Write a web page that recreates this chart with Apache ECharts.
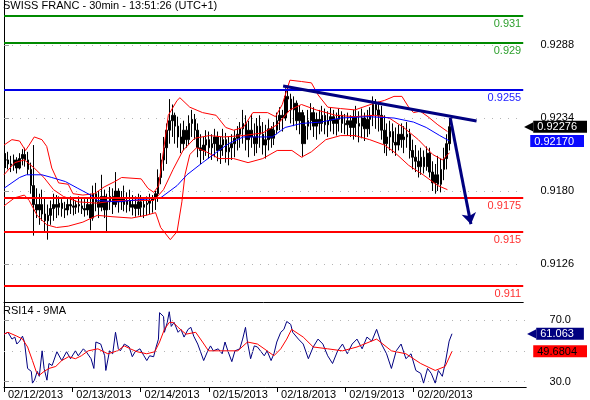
<!DOCTYPE html>
<html>
<head>
<meta charset="utf-8">
<script src="https://cdn.jsdelivr.net/npm/echarts/dist/echarts.min.js"></script>
<style>
  html, body { margin: 0; padding: 0; background: #fff; }
  #chart { width: 590px; height: 400px; }
</style>
</head>
<body>
<div id="chart"></div>
<script>
// x 单位: 小时 (只算交易日), 0 = 02/12 00:00
var dayTicks = [0, 24, 48, 72, 96, 120, 144];
var dayLabels = ["02/12/2013", "02/13/2013", "02/14/2013", "02/15/2013", "02/18/2013", "02/19/2013", "02/20/2013"];
var priceTicks = [0.9288, 0.9234, 0.9180, 0.9126];
var rsiTicks = [30, 70];

// 1小时K线 高/低/收
var barHigh = [
  .9208,.9209,.9206,.9207,.9205,.9208,.9211,.9212,.9209,.9201,.9214,.9182,.9178,.9181,.9175,.9170,.9173,.9178,.9177,.9176,.9174,.9172,.9174,.9176,
  .9175,.9173,.9176,.9175,.9174,.9175,.9178,.9184,.9186,.9180,.9192,.9181,.9178,.9183,.9182,.9194,.9182,.9180,.9184,.9179,.9181,.9177,.9176,.9178,
  .9177,.9175,.9176,.9178,.9177,.9180,.9196,.9208,.9220,.9230,.9248,.9244,.9238,.9235,.9230,.9232,.9228,.9236,.9240,.9237,.9230,.9222,.9220,.9225,
  .9224,.9222,.9226,.9224,.9220,.9226,.9223,.9220,.9222,.9225,.9228,.9231,.9240,.9236,.9232,.9237,.9230,.9234,.9236,.9231,.9229,.9233,.9228,.9231,
  .9238,.9242,.9240,.9256,.9258,.9252,.9250,.9247,.9243,.9240,.9236,.9240,.9245,.9242,.9238,.9240,.9243,.9241,.9239,.9242,.9240,.9238,.9241,.9239,
  .9237,.9238,.9236,.9240,.9243,.9239,.9241,.9238,.9240,.9242,.9250,.9248,.9246,.9243,.9236,.9230,.9232,.9230,.9227,.9229,.9230,.9228,.9231,.9226,
  .9218,.9214,.9210,.9212,.9210,.9213,.9212,.9202,.9200,.9206,.9204,.9212,.9222,.9234
];
var barLow = [
  .9197,.9196,.9194,.9195,.9193,.9196,.9199,.9198,.9192,.9178,.9147,.9160,.9155,.9158,.9150,.9144,.9155,.9158,.9160,.9162,.9161,.9160,.9162,.9163,
  .9162,.9163,.9164,.9163,.9161,.9162,.9151,.9158,.9165,.9160,.9165,.9160,.9149,.9166,.9163,.9168,.9164,.9166,.9165,.9164,.9165,.9162,.9161,.9162,
  .9161,.9160,.9162,.9163,.9164,.9166,.9172,.9185,.9195,.9200,.9215,.9220,.9215,.9212,.9208,.9210,.9212,.9214,.9220,.9218,.9205,.9200,.9203,.9206,
  .9204,.9203,.9205,.9202,.9200,.9206,.9201,.9199,.9203,.9205,.9210,.9212,.9215,.9210,.9205,.9212,.9206,.9208,.9212,.9207,.9204,.9210,.9212,.9214,
  .9222,.9225,.9224,.9232,.9238,.9230,.9228,.9225,.9222,.9205,.9215,.9218,.9225,.9220,.9218,.9222,.9224,.9222,.9220,.9224,.9222,.9221,.9224,.9223,
  .9222,.9221,.9220,.9218,.9220,.9216,.9219,.9217,.9220,.9222,.9228,.9226,.9224,.9218,.9208,.9206,.9210,.9208,.9206,.9210,.9212,.9208,.9212,.9204,
  .9196,.9194,.9190,.9192,.9193,.9195,.9190,.9180,.9178,.9180,.9179,.9188,.9196,.9210
];
var barClose = [
  .9203,.9200,.9199,.9203,.9197,.9204,.9207,.9203,.9196,.9184,.9170,.9166,.9170,.9163,.9158,.9162,.9167,.9170,.9168,.9171,.9167,.9166,.9170,.9169,
  .9168,.9170,.9169,.9167,.9166,.9170,.9160,.9178,.9172,.9168,.9176,.9166,.9172,.9176,.9170,.9180,.9172,.9175,.9170,.9173,.9168,.9170,.9167,.9172,
  .9168,.9170,.9171,.9173,.9175,.9178,.9190,.9203,.9212,.9225,.9232,.9236,.9228,.9220,.9215,.9225,.9218,.9230,.9233,.9225,.9212,.9210,.9214,.9218,
  .9212,.9215,.9220,.9210,.9214,.9218,.9209,.9212,.9215,.9219,.9222,.9226,.9230,.9218,.9225,.9220,.9215,.9228,.9222,.9214,.9218,.9226,.9219,.9225,
  .9232,.9236,.9234,.9250,.9248,.9240,.9245,.9232,.9238,.9215,.9228,.9232,.9238,.9228,.9233,.9230,.9236,.9229,.9232,.9235,.9230,.9233,.9236,.9230,
  .9229,.9232,.9227,.9235,.9230,.9228,.9234,.9226,.9233,.9236,.9244,.9240,.9236,.9225,.9215,.9220,.9224,.9216,.9214,.9222,.9218,.9220,.9222,.9210,
  .9205,.9202,.9198,.9205,.9198,.9208,.9194,.9186,.9192,.9185,.9196,.9204,.9215,.92276
];

// 布林带 上/中/下 和 蓝色均线 [小时, 价格]
var bandUpper = [[0,.9214],[2.8,.9218],[5.5,.9217],[7.6,.9210],[8.9,.9214],[10.7,.9220],[13.4,.9218],[15.1,.9213],[16.9,.9197],[19.3,.9186],[22.7,.9185],[24.4,.9178],[27.9,.9177],[32,.9178],[35.4,.9183],[39.2,.9187],[41.6,.9190],[48.5,.9189],[50.9,.9182],[53,.9179],[54.7,.9184],[56.4,.9210],[58.1,.9236],[61.2,.9247],[62.2,.9249],[65.7,.9242],[70.2,.9238],[75,.9236],[78.4,.9227],[81.2,.9225],[84.6,.9227],[88,.9238],[93.2,.9238],[96,.9235],[98.4,.9244],[101.1,.9262],[105.2,.9261],[108.7,.9260],[111.1,.9251],[114.5,.9242],[119,.9241],[124.1,.9240],[131,.9245],[134.5,.9247],[137.9,.9250],[140.7,.9250],[143.1,.9242],[144.8,.9238],[147.2,.9239],[149.9,.9235],[153.4,.9229],[156.8,.9224]];
var bandMid = [[0,.9192],[3.8,.9201],[7.2,.9203],[10.7,.9197],[14.1,.9190],[17.5,.9181],[21,.9176],[26.1,.9172],[33,.9171],[39.9,.9173],[46.8,.9173],[53,.9173],[56.4,.9181],[59.8,.9196],[63.3,.9210],[67.4,.9219],[72.6,.9221],[77.7,.9220],[84.6,.9221],[91.5,.9223],[96.6,.9229],[101.1,.9240],[105.2,.9244],[110.4,.9240],[117.3,.9236],[124.1,.9235],[131,.9236],[136.2,.9234],[141.3,.9227],[146.5,.9218],[151.6,.9207],[155.1,.9203],[157.5,.92083]];
var bandLower = [[0,.9169],[3.8,.9175],[7.2,.9177],[8.9,.9173],[11.7,.9162],[15.1,.9155],[18.6,.9153],[22.7,.9154],[27.9,.9157],[33,.9162],[38.2,.9161],[45.1,.9160],[50.2,.9162],[53.6,.9164],[55.4,.9153],[58.8,.9144],[61.2,.9150],[62.9,.9172],[64,.9192],[65.7,.9207],[68.1,.9212],[71.5,.9209],[76,.9204],[81.2,.9204],[86.3,.9201],[91.5,.9204],[96.6,.9210],[101.8,.9210],[105.2,.9205],[108.7,.9209],[113.8,.9218],[119,.9221],[124.1,.9221],[129.3,.9218],[134.5,.9214],[137.9,.9209],[143.1,.9199],[148.2,.9192],[153.4,.9184],[156.8,.9181]];
var maBlue = [[0,.9182],[5.5,.9190],[7.9,.9192],[13.4,.9192],[16.9,.9190],[21.7,.9187],[26.1,.9182],[30.6,.9177],[33,.9173],[39.9,.9172],[55.4,.9175],[61.2,.9184],[64.7,.9192],[70.2,.9201],[76,.9210],[79.4,.9215],[84.6,.9220],[94.9,.9220],[99.4,.9227],[105.2,.9230],[112.1,.9231],[119,.9234],[128.6,.9235],[137.9,.9234],[144.8,.9231],[149.3,.9227],[154.1,.9221],[157.5,.92170]];

// 水平支撑/阻力
var levelValues = [0.931, 0.929, 0.9255, 0.9175, 0.915, 0.911];
var levelLabels = ["0.931", "0.929", "0.9255", "0.9175", "0.915", "0.911"];
var levelColors = ["#008a00", "#008a00", "#0000e6", "#ff0000", "#ff0000", "#ff0000"];
var levelTextColors = ["#2ea02e", "#2ea02e", "#2020ff", "#ff3030", "#ff3030", "#ff3030"];
// 趋势线与箭头 [小时, 价格]
var trendLine = [[98.7, 0.92577], [167.1, 0.92318]];
var arrowLine = [[157.8, 0.92340], [165.1, 0.91555]];

// RSI14 和 9MA
var rsi = [[0,60.8],[1.4,62],[2.8,57.6],[3.8,58.9],[4.5,54.4],[5.5,56.3],[6.5,59.5],[7.2,55.7],[8.3,38.6],[9.6,36.7],[10,29.1],[10.7,31],[11.7,36.7],[12.4,33.5],[13.4,50],[14.1,38.6],[15.1,31],[15.8,41.8],[16.9,40.5],[18.6,49.4],[20.3,43.7],[22,49.4],[23.4,44.9],[25.1,50],[26.1,46.8],[27.9,51.3],[28.9,49.4],[30.6,44.9],[31.6,38.6],[32.3,55.7],[34,54.4],[35.4,46.8],[35.8,37.3],[37.1,50],[38.2,48.1],[39.2,62],[40.2,51.3],[40.9,50],[42.3,54.4],[44,52.5],[45.1,46.2],[46.1,49.4],[47.8,51.3],[49.2,46.8],[50.2,43.7],[51.2,46.8],[52.6,46.2],[53.3,51.3],[54.3,57.6],[54.7,74.7],[56.1,72.2],[56.4,62],[57.4,68.4],[58.1,75.3],[58.8,65.8],[59.8,68.4],[61.2,62],[62.2,63.9],[63.3,58.9],[64.7,63.9],[65.7,65.2],[66.7,59.5],[68.1,54.4],[69.1,49.4],[70.2,43.7],[71.5,49.4],[72.6,53.2],[73.6,50],[75.3,51.3],[76.7,48.1],[77.7,55.7],[78.8,49.4],[80.1,43],[81.2,50],[82.9,51.3],[83.9,57.6],[84.9,65.2],[85.6,55.7],[86.7,44.9],[88,53.2],[89.1,52.5],[90.4,49.4],[91.5,46.8],[92.5,50],[93.9,43.7],[94.9,48.1],[95.9,55.7],[97.3,62],[98.4,63.9],[99.4,69],[100.8,67.1],[101.5,62],[103.5,57.6],[105.2,54.4],[107,44.9],[108.7,52.5],[110.4,57.6],[112.1,54.4],[113.8,46.8],[115.5,41.8],[117.3,50],[119,54.4],[120.7,48.1],[122.4,54.4],[124.1,57.6],[125.9,51.3],[127.6,58.9],[129.3,56.3],[131,63.9],[132.7,54.4],[134.5,48.1],[136.2,38.6],[137.9,50],[139.6,54.4],[141.3,44.9],[143.1,48.1],[144.8,37.3],[146.5,35.4],[147.5,29.1],[148.9,38.6],[150.2,35.4],[151.6,29.1],[152.7,37.3],[154.1,33.5],[155.1,41.8],[156.5,56.3],[157.5,61.063]];
var rsiMa = [[0,60.8],[1.4,62],[4.5,59.5],[6.5,57.6],[8.3,52.5],[10,43.7],[11.3,36.7],[12.4,34.2],[14.1,36.7],[15.8,38.6],[18.2,39.9],[20.3,43.7],[22.7,46.2],[25.1,44.9],[27.2,46.8],[29.6,50],[33,51.3],[36.5,48.1],[39.9,50],[42.3,53.2],[44.4,51.3],[46.8,49.4],[50.2,48.1],[53,49.4],[54.7,55.7],[56.4,63.9],[58.1,68.4],[59.5,68.4],[61.2,65.2],[64,60.8],[67.4,62],[69.8,55.7],[71.9,50],[75.3,50],[78.8,50],[82.2,50],[85.6,55.7],[89.1,54.4],[92.5,50],[94.9,46.8],[97.3,51.3],[99.4,57.6],[101.1,63.9],[105.2,58.9],[108.7,52.5],[113.8,51.3],[119,50],[124.1,52.5],[131,57.6],[136.2,50],[141.3,48.1],[146.5,41.8],[151.6,37.3],[155.1,39.9],[157.5,49.6804]];

// 右侧价格标签
var priceTags = [0.92276, 0.92170, 0.92083];
var rsiTags = [61.063, 49.6804];

var font = "'Liberation Sans', Arial, sans-serif";

var candles = barClose.map(function (c, i) {
  var o = i === 0 ? 0.9203 : barClose[i - 1];
  return [i + 0.5, o, c, barLow[i], barHigh[i]];
});

var levelData = levelValues.map(function (v, i) {
  return {
    yAxis: v,
    name: levelLabels[i],
    lineStyle: { color: levelColors[i], width: 2, type: "solid" },
    label: {
      show: true,
      position: "insideEndBottom",
      formatter: "{b}",
      color: levelTextColors[i],
      fontSize: 11,
      fontFamily: font,
      distance: [2, 3],
    },
  };
});

function tagIndex(list, v) {
  for (var i = 0; i < list.length; i++) {
    if (Math.abs(list[i] - v) < 1e-7) return i;
  }
  return -1;
}

var myChart = echarts.init(document.getElementById("chart"));
myChart.setOption({
  animation: false,
  textStyle: { fontFamily: font },
  title: [
    {
      text: "SWISS FRANC - 30min - 13:51:26 (UTC+1)",
      left: 3,
      top: 0,
      padding: 0,
      textStyle: { fontSize: 11, fontWeight: "normal", color: "#000", fontFamily: font },
    },
    {
      text: "RSI14 - 9MA",
      left: 3,
      top: 305,
      padding: 0,
      textStyle: { fontSize: 11, fontWeight: "normal", color: "#000", fontFamily: font },
    },
  ],
  grid: [
    { left: 4, right: 52, top: 0, height: 302 },
    { left: 4, right: 52, top: 302, bottom: 11 },
  ],
  xAxis: [
    {
      type: "value",
      gridIndex: 0,
      min: 0,
      max: 183.6,
      axisLine: { show: true, lineStyle: { color: "#000", width: 1 } },
      axisTick: { show: false },
      axisLabel: { show: false },
      splitLine: { show: false },
    },
    {
      type: "value",
      gridIndex: 1,
      min: 0,
      max: 183.6,
      axisLine: { show: true, lineStyle: { color: "#000", width: 1 } },
      axisTick: { show: true, customValues: dayTicks, length: 5, lineStyle: { color: "#000" } },
      axisLabel: {
        customValues: dayTicks,
        formatter: function (v) {
          return dayLabels[dayTicks.indexOf(v)];
        },
        align: "left",
        padding: [0, 0, 0, 4],
        margin: 2,
        fontSize: 11,
        color: "#000",
        fontFamily: font,
      },
      splitLine: { show: false },
    },
  ],
  yAxis: [
    {
      type: "value",
      gridIndex: 0,
      position: "right",
      min: 0.90979,
      max: 0.93213,
      axisLine: { show: true, lineStyle: { color: "#000", width: 1 } },
      axisTick: { show: true, customValues: priceTicks, length: 5, lineStyle: { color: "#999" } },
      axisLabel: {
        customValues: priceTicks,
        formatter: function (v) {
          return v.toFixed(4);
        },
        align: "center",
        margin: 34,
        fontSize: 11,
        color: "#000",
        fontFamily: font,
      },
      splitLine: { show: true, lineStyle: { color: "#b4b4b4", type: [1, 7] } },
    },
    {
      type: "value",
      gridIndex: 0,
      position: "right",
      min: 0.90979,
      max: 0.93213,
      axisLine: { show: false },
      axisTick: { show: false },
      splitLine: { show: false },
      axisLabel: {
        customValues: priceTags,
        align: "left",
        margin: 1,
        fontFamily: font,
        formatter: function (v) {
          var i = tagIndex(priceTags, v);
          if (i === 0) return "{ka|◀}{k|0.92276}";
          if (i === 1) return "{sp| }{b|0.92170}";
          return "{sp| }{r|0.92083}";
        },
        rich: {
          ka: { color: "#000", fontSize: 12, padding: [0, 0, 0, 0] },
          k: { color: "#fff", backgroundColor: "#000", fontSize: 11, padding: [1, 10, 0, 4], fontFamily: font },
          sp: { width: 6 },
          b: { color: "#fff", backgroundColor: "#0a0aff", fontSize: 11, padding: [1, 10, 0, 4], fontFamily: font },
          r: { color: "#000", backgroundColor: "#ff0000", fontSize: 11, padding: [1, 10, 0, 4], fontFamily: font },
        },
      },
    },
    {
      type: "value",
      gridIndex: 1,
      position: "right",
      min: 26.6,
      max: 81.6,
      axisLine: { show: true, lineStyle: { color: "#000", width: 1 } },
      axisTick: { show: true, customValues: rsiTicks, length: 5, lineStyle: { color: "#999" } },
      axisLabel: {
        customValues: rsiTicks,
        formatter: function (v) {
          return v.toFixed(1);
        },
        align: "center",
        margin: 34,
        fontSize: 11,
        color: "#000",
        fontFamily: font,
      },
      splitLine: { show: true, lineStyle: { color: "#b4b4b4", type: [1, 7] } },
    },
    {
      type: "value",
      gridIndex: 1,
      position: "right",
      min: 26.6,
      max: 81.6,
      axisLine: { show: false },
      axisTick: { show: false },
      splitLine: { show: false },
      axisLabel: {
        customValues: rsiTags,
        align: "left",
        margin: 1,
        fontFamily: font,
        formatter: function (v) {
          var i = tagIndex(rsiTags, v);
          if (i === 0) return "{na|◀}{n|61.063}";
          return "{sp| }{r|49.6804}";
        },
        rich: {
          na: { color: "#000080", fontSize: 12 },
          n: { color: "#fff", backgroundColor: "#000080", fontSize: 11, padding: [1, 10, 0, 4], fontFamily: font },
          sp: { width: 6 },
          r: { color: "#000", backgroundColor: "#ff0000", fontSize: 11, padding: [1, 10, 0, 4], fontFamily: font },
        },
      },
    },
  ],
  series: [
    {
      name: "price",
      type: "candlestick",
      xAxisIndex: 0,
      yAxisIndex: 0,
      data: candles,
      barWidth: 2,
      z: 2,
      itemStyle: {
        color: "#000",
        color0: "#000",
        borderColor: "#000",
        borderColor0: "#000",
        borderWidth: 1,
      },
    },
    {
      name: "upper",
      type: "line",
      xAxisIndex: 0,
      yAxisIndex: 0,
      data: bandUpper,
      symbol: "none",
      z: 3,
      lineStyle: { color: "#ff0000", width: 1 },
    },
    {
      name: "mid",
      type: "line",
      xAxisIndex: 0,
      yAxisIndex: 0,
      data: bandMid,
      symbol: "none",
      z: 3,
      lineStyle: { color: "#ff0000", width: 1 },
    },
    {
      name: "lower",
      type: "line",
      xAxisIndex: 0,
      yAxisIndex: 0,
      data: bandLower,
      symbol: "none",
      z: 3,
      lineStyle: { color: "#ff0000", width: 1 },
    },
    {
      name: "ma",
      type: "line",
      xAxisIndex: 0,
      yAxisIndex: 0,
      data: maBlue,
      symbol: "none",
      z: 3,
      lineStyle: { color: "#0000ff", width: 1 },
    },
    {
      name: "levels",
      type: "line",
      xAxisIndex: 0,
      yAxisIndex: 0,
      data: [],
      z: 6,
      markLine: {
        silent: true,
        precision: 5,
        symbol: ["none", "none"],
        data: levelData.concat([
          [
            { coord: trendLine[0], lineStyle: { color: "#000080", width: 3, type: "solid" }, label: { show: false } },
            { coord: trendLine[1] },
          ],
          [
            { coord: arrowLine[0], symbol: "none", lineStyle: { color: "#000080", width: 3, type: "solid" }, label: { show: false } },
            { coord: arrowLine[1], symbol: "arrow", symbolSize: 11 },
          ],
        ]),
      },
    },
    {
      name: "RSI14",
      type: "line",
      xAxisIndex: 1,
      yAxisIndex: 2,
      data: rsi,
      symbol: "none",
      z: 3,
      lineStyle: { color: "#000080", width: 1 },
      markLine: {
        silent: true,
        symbol: ["none", "none"],
        label: { show: false },
        lineStyle: { color: "#b4b4b4", type: [1, 7], width: 1 },
        data: [{ yAxis: 50 }],
      },
    },
    {
      name: "9MA",
      type: "line",
      xAxisIndex: 1,
      yAxisIndex: 2,
      data: rsiMa,
      symbol: "none",
      z: 4,
      lineStyle: { color: "#ff0000", width: 1 },
    },
  ],
});
</script>
</body>
</html>
